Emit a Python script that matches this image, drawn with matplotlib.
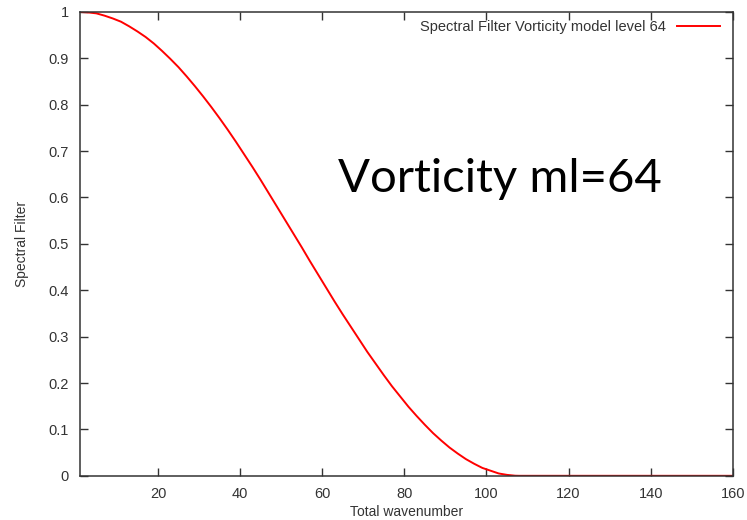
import numpy as np
import matplotlib
matplotlib.use("Agg")
import matplotlib.pyplot as plt

plt.rcParams["font.family"] = ["Liberation Sans", "DejaVu Sans"]

# valores (numero de onda total vs filtro espectral)
numero_onda = [1, 3, 5, 7, 9, 11, 13, 15, 17, 19, 21, 23, 25, 27, 29, 31,
               33, 35, 37, 39, 41, 43, 45, 47, 49, 51, 53, 55, 57, 59, 61,
               63, 65, 67, 69, 71, 73, 75, 77, 79, 81, 83, 85, 87, 89, 91,
               93, 95, 97, 99, 101, 103, 105, 107, 108, 120, 140, 160]
filtro = [1.0, 0.999, 0.997, 0.992, 0.986, 0.979, 0.969, 0.958, 0.946,
          0.932, 0.916, 0.899, 0.881, 0.861, 0.840, 0.818, 0.795, 0.771,
          0.746, 0.720, 0.693, 0.666, 0.638, 0.609, 0.580, 0.551, 0.522,
          0.493, 0.463, 0.434, 0.405, 0.376, 0.348, 0.321, 0.294, 0.267,
          0.242, 0.217, 0.193, 0.171, 0.149, 0.129, 0.110, 0.092, 0.076,
          0.061, 0.048, 0.036, 0.026, 0.017, 0.011, 0.005, 0.002, 0.0002,
          0.0, 0.0, 0.0, 0.0]

x_ticks = [20, 40, 60, 80, 100, 120, 140, 160]
y_ticks = [0, 0.1, 0.2, 0.3, 0.4, 0.5, 0.6, 0.7, 0.8, 0.9, 1]
y_labels = ["0", "0.1", "0.2", "0.3", "0.4", "0.5", "0.6", "0.7", "0.8", "0.9", "1"]

fig = plt.figure(figsize=(7.47, 5.2), dpi=100)
ax = fig.add_axes([0.107, 0.085, 0.874, 0.892])

ax.plot(numero_onda, filtro, color="red", lw=1.4,
        label="Spectral Filter Vorticity model level 64")

ax.set_xlim(1, 160)
ax.set_ylim(0, 1)
ax.set_xticks(x_ticks)
ax.set_yticks(y_ticks)
ax.set_yticklabels(y_labels)
ax.tick_params(direction="in", length=6, width=1, top=True, right=True,
               labelsize=10.5, colors="#333333", pad=8)
for s in ax.spines.values():
    s.set_color("#333333")
    s.set_linewidth(1.1)

ax.set_xlabel("Total wavenumber", fontsize=10, color="#333333", labelpad=3)
ax.set_ylabel("Spectral Filter", fontsize=10, color="#333333", labelpad=14)

leg = ax.legend(loc="upper right", bbox_to_anchor=(0.98, 0.983),
                frameon=False, markerfirst=False, fontsize=10.5,
                handlelength=2.9, borderaxespad=0.0, handletextpad=0.8,
                borderpad=0.0)
for t in leg.get_texts():
    t.set_color("#333333")

ax.text(0.643, 0.64, "Vorticity ml=64", transform=ax.transAxes,
        fontsize=34, family=["Lato", "DejaVu Sans"], color="black",
        ha="center", va="center")

fig.savefig("out.png", dpi=100)
